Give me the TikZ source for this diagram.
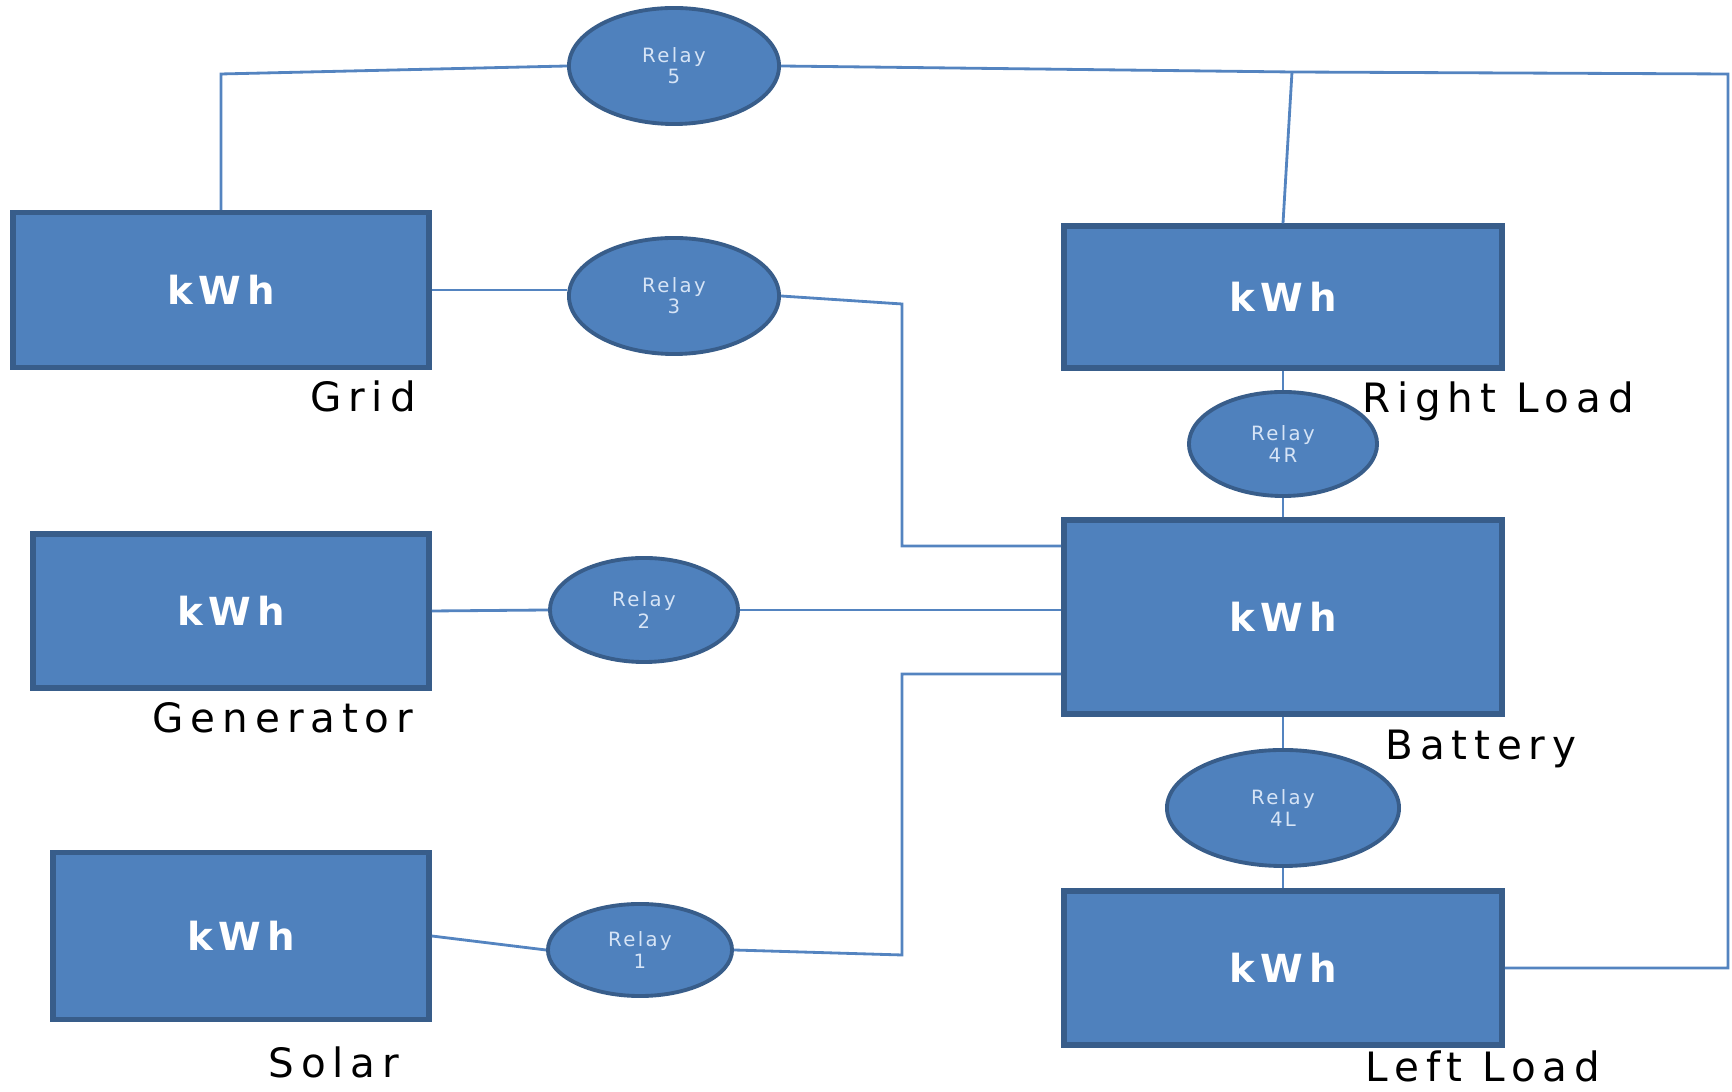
\documentclass[tikz,border=0pt]{standalone}
\usepackage{fontspec}
\setmainfont{DejaVu Sans}
\newfontfamily\captionfont[LetterSpace=17]{DejaVu Sans}
\newfontfamily\meterfont[LetterSpace=15]{DejaVu Sans}
\newfontfamily\relayfont[LetterSpace=12]{DejaVu Sans}
\usetikzlibrary{shapes.geometric}
\definecolor{officeblue}{RGB}{79, 129, 189}
\definecolor{officeedge}{RGB}{56, 93, 138}
\definecolor{wireblue}{RGB}{84, 132, 192}
\definecolor{relaytext}{RGB}{214, 228, 246}

\begin{document}
\begin{tikzpicture}[x=0.01cm, y=-0.01cm,
    meter/.style={rectangle, fill=officeblue, draw=officeedge, line width=1.5pt, text=white,
                  font=\meterfont\bfseries\fontsize{11}{13}\selectfont, inner sep=0pt},
    relay/.style={ellipse, fill=officeblue, draw=officeedge, line width=1.1pt, text=relaytext,
                  align=center, font=\relayfont\fontsize{5.6}{6}\selectfont, inner sep=0pt},
    caption/.style={anchor=base, font=\captionfont\fontsize{11.5}{13}\selectfont},
    wire/.style={wireblue, line width=0.8pt}]
  \useasboundingbox (0,0) rectangle (1732,1092);

  \node[meter, minimum width=4.16cm, minimum height=1.55cm] (grid)      at ( 221, 290) {kWh};
  \node[meter, minimum width=3.96cm, minimum height=1.54cm] (generator) at ( 231, 611) {kWh};
  \node[meter, minimum width=3.76cm, minimum height=1.67cm] (solar)     at ( 241, 936) {kWh};
  \node[meter, minimum width=4.38cm, minimum height=1.42cm] (rightload) at (1283, 297) {kWh};
  \node[meter, minimum width=4.38cm, minimum height=1.94cm] (battery)   at (1283, 617) {kWh};
  \node[meter, minimum width=4.38cm, minimum height=1.54cm] (leftload)  at (1283, 968) {kWh};

  \node[relay, minimum width=2.10cm, minimum height=1.16cm] (relayfive)  at ( 674,  66) {Relay\\5};
  \node[relay, minimum width=2.10cm, minimum height=1.16cm] (relaythree) at ( 674, 296) {Relay\\3};
  \node[relay, minimum width=1.88cm, minimum height=1.04cm] (relaytwo)   at ( 644, 610) {Relay\\2};
  \node[relay, minimum width=1.84cm, minimum height=0.92cm] (relayone)   at ( 640, 950) {Relay\\1};
  \node[relay, minimum width=1.88cm, minimum height=1.04cm] (relayfourr) at (1283, 444) {Relay\\4R};
  \node[relay, minimum width=2.32cm, minimum height=1.16cm] (relayfourl) at (1283, 808) {Relay\\4L};

  \node[caption] (gridlabel)      at ( 363, 412) {Grid};
  \node[caption] (generatorlabel) at ( 283, 733) {Generator};
  \node[caption] (solarlabel)     at ( 334, 1078) {Solar};
  \node[caption] (rightlabel)     at (1498, 413) {Right Load};
  \node[caption] (batterylabel)   at (1481, 760) {Battery};
  \node[caption] (leftlabel)      at (1483, 1082) {Left Load};

  \coordinate (gridup)     at ( 221,  74);
  \coordinate (topjoin)    at (1292,  72);
  \coordinate (topcorner)  at (1728,  74);
  \coordinate (sidecorner) at (1728, 968);
  \coordinate (threebend)  at ( 902, 304);
  \coordinate (threebus)   at ( 902, 546);
  \coordinate (onebend)    at ( 902, 955);
  \coordinate (onebus)     at ( 902, 674);

  \draw[wire] (grid.north) -- (gridup) -- (relayfive.west);
  \draw[wire] (relayfive.east) -- (topjoin) -- (topcorner) -- (sidecorner) -- (leftload.east);
  \draw[wire] (topjoin) -- (rightload.north);
  \draw[wire] (grid.east) -- (grid.east -| relaythree.west);
  \draw[wire] (relaythree.east) -- (threebend) -- (threebus) -- (threebus -| battery.west);
  \draw[wire] (generator.east) -- (relaytwo.west);
  \draw[wire] (relaytwo.east) -- (relaytwo.east -| battery.west);
  \draw[wire] (solar.east) -- (relayone.west);
  \draw[wire] (relayone.east) -- (onebend) -- (onebus) -- (onebus -| battery.west);
  \draw[wire] (rightload.south) -- (relayfourr.north);
  \draw[wire] (relayfourr.south) -- (battery.north);
  \draw[wire] (battery.south) -- (relayfourl.north);
  \draw[wire] (relayfourl.south) -- (leftload.north);
\end{tikzpicture}
\end{document}
